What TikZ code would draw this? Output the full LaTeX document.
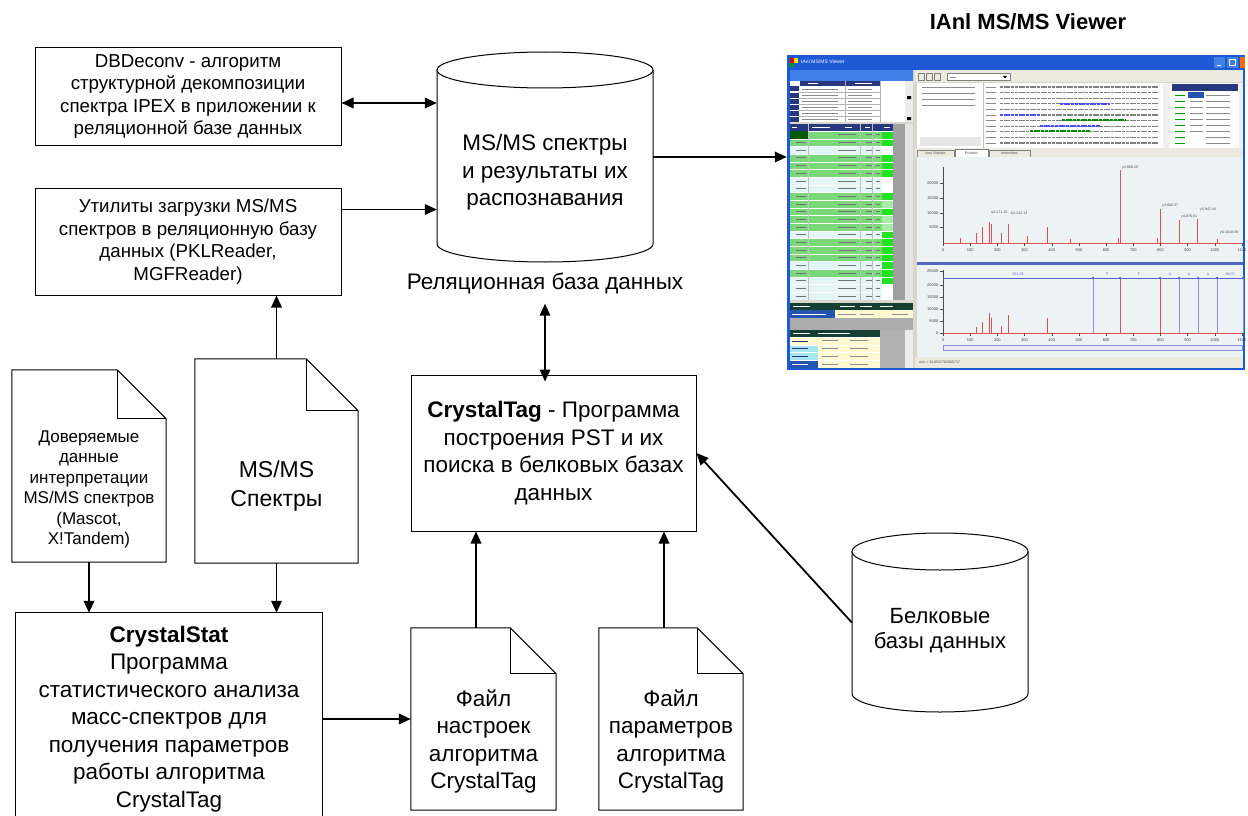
\documentclass[tikz,border=0pt]{standalone}
\usepackage{fontspec}
\setmainfont{Liberation Sans}
\usetikzlibrary{arrows.meta,calc}
\definecolor{xpblue}{HTML}{1F5AD6}
\definecolor{xpblueb}{HTML}{3F7FE8}
\definecolor{wgray}{HTML}{D9D6CE}
\definecolor{navy}{HTML}{27387E}
\definecolor{rowG}{HTML}{7AD87A}
\definecolor{rowL}{HTML}{E4F5F8}
\definecolor{cellB}{HTML}{22E022}
\definecolor{cellW}{HTML}{FFFFFF}
\definecolor{cellP}{HTML}{A8EAA8}
\definecolor{dgreen}{HTML}{163F33}
\definecolor{chartbg}{HTML}{EDF3F5}
\definecolor{spike}{HTML}{E25050}
\definecolor{bline}{HTML}{5566C0}
\definecolor{tbar}{HTML}{ECE9DE}
\definecolor{lyellow}{HTML}{FFF9D2}
\definecolor{lcyan}{HTML}{A6E6F0}
\definecolor{selblue}{HTML}{2453B0}
\newcommand{\docshape}[2]{%
  \draw[shp] (#1.south west) -- (#1.north west) -- ([xshift=-#2]#1.north east) -- ([yshift=-#2]#1.north east) -- (#1.south east) -- cycle;
  \draw[shp] ([xshift=-#2]#1.north east) -- ([xshift=-#2,yshift=-#2]#1.north east) -- ([yshift=-#2]#1.north east);}
\begin{document}
\begin{tikzpicture}[x=1pt,y=-1pt,
  box/.style={draw=black, line width=1pt, align=center, inner sep=0pt, fill=white},
  plain/.style={align=center, inner sep=0pt},
  shp/.style={line width=1pt, draw=black},
  arr/.style={line width=1.8pt, -{Triangle[length=12pt,width=10.5pt]}},
  barr/.style={line width=1.8pt, {Triangle[length=12pt,width=10.5pt]}-{Triangle[length=12pt,width=10.5pt]}},
  fs/.style={font=\fontsize{18.7}{22.5}\selectfont},
  fm/.style={font=\fontsize{22.5}{27.5}\selectfont},
  ft/.style={font=\fontsize{17}{20.5}\selectfont},
  tick/.style={font=\fontsize{4}{4}\selectfont, inner sep=0pt, text=black!75},
  plab/.style={font=\fontsize{3.6}{4}\selectfont, inner sep=0pt, text=black!70},
  fake/.style={line width=1.1pt, draw=black!45},
]
\useasboundingbox (0,0) rectangle (1248,816);
\fill[white] (0,0) rectangle (1248,816);

% ---------- left boxes ----------
\node[box, fs, minimum width=306pt, minimum height=97pt] (dbd) at (188,96.5)
  {DBDeconv - алгоритм\\структурной декомпозиции\\спектра IPEX в приложении к\\реляционной базе данных};
\node[box, fs, minimum width=306pt, minimum height=107pt] (util) at (188,241.5)
  {Утилиты загрузки MS/MS\\спектров в реляционную базу\\данных (PKLReader,\\MGFReader)};

% ---------- main database cylinder ----------
\node[plain, minimum width=216pt, minimum height=210pt] (db) at (545,157) {};
\draw[shp, fill=white] (437,70) -- (437,244) arc[start angle=180, end angle=360, x radius=108pt, y radius=18pt] -- (653,70);
\draw[shp, fill=white] (545,70) ellipse[x radius=108pt, y radius=18pt];
\node[plain, fm] (dbtext) at (545,172.5) {MS/MS спектры\\и результаты их\\распознавания};
\node[plain, fm, inner sep=3pt] (dblabel) at (545,283) {Реляционная база данных};

% ---------- CrystalTag ----------
\node[box, fm, minimum width=285pt, minimum height=156pt] (ct) at (553.5,453)
  {\textbf{CrystalTag} - Программа\\построения PST и их\\поиска в белковых базах\\данных};

% ---------- documents ----------
\node[plain, minimum width=154pt, minimum height=192pt] (trust) at (89,466) {};
\docshape{trust}{49pt}
\node[plain, ft] (trusttext) at (89,489.5) {Доверяемые\\данные\\интерпретации\\MS/MS спектров\\(Mascot,\\X!Tandem)};

\node[plain, minimum width=163pt, minimum height=204pt] (msdoc) at (276.5,461) {};
\docshape{msdoc}{52pt}
\node[plain, font=\fontsize{23}{29}\selectfont] (mstext) at (276.5,486.5) {MS/MS\\Спектры};

\node[plain, minimum width=145pt, minimum height=182pt] (file1) at (483.5,719) {};
\docshape{file1}{46pt}
\node[plain, fm] (f1text) at (483.5,741.5) {Файл\\настроек\\алгоритма\\CrystalTag};

\node[plain, minimum width=144pt, minimum height=182pt] (file2) at (671,719) {};
\docshape{file2}{46pt}
\node[plain, fm] (f2text) at (671,741.5) {Файл\\параметров\\алгоритма\\CrystalTag};

% ---------- CrystalStat ----------
\node[plain, fm, minimum width=306pt, minimum height=212pt] (cstat) at (169,719)
  {\textbf{CrystalStat}\\Программа\\статистического анализа\\масс-спектров для\\получения параметров\\работы алгоритма\\CrystalTag};
\draw[shp] (cstat.north west |- 0,816) -- (cstat.north west) -- (cstat.north east) -- (cstat.north east |- 0,816);

% ---------- protein DB cylinder ----------
\node[plain, minimum width=176pt, minimum height=179pt] (bdb) at (940,622.5) {};
\draw[shp, fill=white] (852,551.5) -- (852,693.5) arc[start angle=180, end angle=360, x radius=88pt, y radius=18.5pt] -- (1028,551.5);
\draw[shp, fill=white] (940,551.5) ellipse[x radius=88pt, y radius=18.5pt];
\node[plain, font=\fontsize{22}{25}\selectfont] (bdbtext) at (940,630.5) {Белковые\\базы данных};

% ---------- viewer screenshot ----------
\node[plain, font=\fontsize{22}{26}\selectfont\bfseries] (vtitle) at (1028,22) {IAnl MS/MS Viewer};
\node[plain, minimum width=458pt, minimum height=315pt] (viewer) at (1016,212.5) {};
\fill[wgray] (viewer.north west) rectangle (viewer.south east);
\fill[xpblue] (787,55) rectangle (1245,70);
\fill[xpblueb] (787,70) rectangle (913,81);
\fill[xpblue] (787,70) rectangle (790,370);
\fill[xpblue] (1243,70) rectangle (1245,370);
\fill[xpblue] (787,368) rectangle (1245,370);
\fill[red!85!black] (790,58) rectangle (794,63);
\fill[yellow!90!orange] (794,58) rectangle (798,63);
\fill[green!60!black] (790,63) rectangle (794,67);
\node[plain, anchor=west, font=\fontsize{5}{5}\selectfont, text=white] (wname) at (801,62) {IAnI MS/MS Viewer};
\fill[xpblueb] (1214,57) rectangle (1225,68);
\draw[white, line width=1pt] (1216.5,65.5) -- (1220.5,65.5);
\fill[xpblueb] (1227,57) rectangle (1238,68);
\draw[white, line width=0.8pt] (1229.5,59.5) rectangle (1235.5,65.5);
\fill[orange!85!red] (1240,57) rectangle (1245,68);

% left table A
\fill[white] (790,81) rectangle (905,122);
\fill[navy] (800,81) rectangle (880,86);
\foreach \i in {0,...,5} {\fill[navy] (790,{86.5+6*\i}) rectangle (799,{86.5+6*\i+5});}
\foreach \i in {1,...,5} {\draw[gray!60, line width=0.3pt] (799,{86+6*\i}) -- (880,{86+6*\i});}
\draw[gray!60, line width=0.3pt] (845,81) -- (845,122) (880,81) -- (880,122);
\foreach \i in {0,...,5} {\draw[fake, line width=0.9pt] (802,{89+6*\i}) -- (838,{89+6*\i}) (848,{89+6*\i}) -- (872,{89+6*\i});}
\draw[white, line width=0.9pt] (808,83.5) -- (818,83.5) (855,83.5) -- (872,83.5);
\fill[gray!15] (905,81) rectangle (913,122);
\fill[black] (907,96) rectangle (911,99) (907,117) rectangle (911,120);

% left table B
\fill[navy] (790,124) rectangle (893,131);
\draw[white, line width=0.9pt] (792,127.5) -- (797,127.5) (812,127.5) -- (830,127.5) (845,127.5) -- (852,127.5) (865,127.5) -- (870,127.5) (884,127.5) -- (890,127.5);
\fill[gray!75] (893,124) rectangle (913,300);
\fill[gray!20] (905,124) rectangle (913,300);
\foreach \c/\d [count=\i from 0] in {G/B,G/B,L/W,G/B,G/B,G/B,L/W,L/W,G/B,G/P,G/B,G/P,G/P,L/B,G/B,G/B,G/B,L/B,G/B,L/B,L/W,L/W} {
  \pgfmathsetmacro{\yy}{131+7.68*\i}
  \fill[row\c] (790,\yy) rectangle (882,\yy+7.68);
  \fill[cell\d] (882,\yy) rectangle (893,\yy+7.68);
  \draw[white, line width=0.3pt] (790,\yy) -- (893,\yy);
  \draw[fake, draw=black!55, line width=0.9pt] (796,\yy+3.9) -- (806,\yy+3.9) (838,\yy+3.9) -- (856,\yy+3.9) (866,\yy+3.9) -- (872,\yy+3.9) (876,\yy+3.9) -- (880,\yy+3.9);
}
\fill[green!35!black] (790,131) rectangle (808,138.7);
\draw[gray!50, line width=0.3pt] (808,124) -- (808,300) (860,124) -- (860,300) (872,124) -- (872,300);

% left table C
\fill[dgreen] (790,303) rectangle (913,310);
\draw[white, line width=0.9pt] (793,306.5) -- (810,306.5) (840,306.5) -- (855,306.5) (860,306.5) -- (872,306.5) (880,306.5) -- (893,306.5);
\fill[selblue] (790,310) rectangle (835,318);
\fill[lyellow] (835,310) rectangle (913,318);
\draw[white, line width=0.9pt] (792,314) -- (826,314);
\draw[fake, line width=0.9pt] (838,314) -- (856,314) (860,314) -- (874,314) (892,314) -- (908,314);
\fill[gray!65] (790,318) rectangle (913,330);

% left table D
\fill[dgreen] (790,330) rectangle (880,337);
\draw[white, line width=0.9pt] (793,333.5) -- (810,333.5) (818,333.5) -- (850,333.5);
\foreach \c [count=\i from 0] in {lyellow,lcyan,lcyan,selblue} {
  \pgfmathsetmacro{\yy}{337+7.8*\i}
  \fill[\c] (790,\yy) rectangle (818,\yy+7.8);
  \fill[lyellow] (818,\yy) rectangle (880,\yy+7.8);
  \draw[white, line width=0.3pt] (790,\yy) -- (880,\yy);
  \draw[fake, line width=0.9pt] (822,\yy+3.9) -- (838,\yy+3.9) (850,\yy+3.9) -- (868,\yy+3.9);
}
\draw[navy, line width=0.9pt] (792,341) -- (808,341) (792,348.5) -- (808,348.5) (792,356.5) -- (808,356.5);
\draw[white, line width=0.9pt] (792,364.5) -- (808,364.5);
\fill[gray!60] (880,330) rectangle (913,368);
\fill[gray!15] (905,330) rectangle (913,368);

% right panel: toolbar
\fill[tbar] (915,70) rectangle (1243,82);
\draw[gray, line width=0.4pt] (918,73) rectangle (924,80) (926,73) rectangle (932,80) (934,73) rectangle (940,80);
\fill[white] (947,73.5) rectangle (1010,80.5);
\draw[gray, line width=0.4pt] (947,73.5) rectangle (1010,80.5);
\fill[black] (1003,76) -- (1007,76) -- (1005,78.5) -- cycle;
\draw[fake, line width=0.8pt] (950,77) -- (956,77);

% right panel: text area
\fill[white] (917,83) rectangle (1240,148);
\draw[gray!50, line width=0.3pt] (983,83) -- (983,148) (1163,83) -- (1163,148);
\foreach \i in {0,...,3} {\draw[fake, line width=0.9pt] (922,{87+6*\i}) -- (975,{87+6*\i});}
\fill[gray!20] (920,137) rectangle (981,146);
\foreach \i in {0,...,10} {
  \pgfmathsetmacro{\yy}{87+5.6*\i}
  \draw[fake, line width=0.9pt] (986,\yy) -- (996,\yy);
  \draw[draw=black!50, line width=1.1pt, dash pattern=on 3pt off 0.7pt] (1000,\yy) -- (1158,\yy);
}
\draw[draw=blue!70, line width=1.1pt, dash pattern=on 3pt off 0.7pt] (1060,104) -- (1110,104) (1000,115) -- (1040,115) (1040,126) -- (1100,126);
\draw[draw=green!55!black, line width=1.1pt, dash pattern=on 3pt off 0.7pt] (1062,120) -- (1125,120) (1030,131) -- (1090,131);
\fill[gray!12] (1163,83) rectangle (1170,148);
\fill[navy] (1172,84) rectangle (1238,91);
\fill[selblue] (1188,92) rectangle (1204,98);
\fill[white] (1172,91) rectangle (1188,147);
\fill[white] (1204,92) rectangle (1238,147);
\fill[white] (1188,98) rectangle (1204,147);
\foreach \i in {0,...,8} {
  \pgfmathsetmacro{\yy}{95+6.1*\i}
  \draw[draw=green!60!black, line width=0.9pt] (1175,\yy) -- (1185,\yy);
  \draw[fake, line width=0.9pt] (1206,\yy) -- (1230,\yy);
}
\draw[fake, line width=0.9pt] (1190,101.1) -- (1203,101.1) (1190,107.2) -- (1203,107.2) (1190,113.3) -- (1203,113.3) (1190,119.4) -- (1203,119.4) (1190,125.5) -- (1203,125.5) (1190,131.6) -- (1203,131.6);
\fill[gray!12] (1239,83) rectangle (1243,148);

% tabs
\fill[tbar] (915,148) rectangle (1243,157);
\draw[gray, line width=0.4pt] (917,157) -- (917,150) -- (954,150) -- (954,157);
\fill[white] (955,149) rectangle (988,157);
\draw[gray, line width=0.4pt] (955,157) -- (955,149) -- (988,149) -- (988,157);
\draw[gray, line width=0.4pt] (989,157) -- (989,150) -- (1030,150) -- (1030,157);
\node[plab] (tab1) at (935.5,153.5) {Ions Statistic};
\node[plab] (tab2) at (971.5,153.5) {Proteins};
\node[plab] (tab3) at (1009.5,153.5) {Intensities};

% chart 1
\fill[chartbg] (917,157) rectangle (1243,262);
\draw[black!70, line width=0.5pt] (943,167) -- (943,243);
\draw[spike, line width=0.6pt] (943,243) -- (1242,243);
\foreach \v/\yy in {20000/183,15000/198,10000/213,5000/227.5} {
  \draw[black!70, line width=0.4pt] (940,\yy) -- (943,\yy);
  \node[tick, anchor=east] (ya\v) at (938.5,\yy) {\v};
}
\foreach \k [evaluate=\k as \xx using 943+27.18*\k, evaluate=\k as \lab using int(100*\k)] in {0,...,11} {
  \draw[black!70, line width=0.4pt] (\xx,243) -- (\xx,246);
  \node[tick] (xa\k) at (\xx,250.5) {\lab};
}
\foreach \xx/\yy in {960/238,976/233,982/227,989/222,991/224,1001/233,1008/224,1027/236,1047/227,1070/239,1118/238,1120/170,1157/238,1160/209,1179/220,1197/219,1217/239} {
  \draw[spike, line width=0.8pt] (\xx,243) -- (\xx,\yy);
}
\node[plab, anchor=west] (l1) at (1122,168) {y2-668.28};
\node[plab, anchor=west] (l2) at (1162,206) {y3-806.37};
\node[plab, anchor=west] (l3) at (1200,210) {y5-947.44};
\node[plab, anchor=west] (l4) at (1181,217) {y4-876.61};
\node[plab, anchor=west] (l5) at (1220,233) {y6-1018.49};
\node[plab, anchor=west] (l6) at (991,212) {a2-171.10};
\node[plab, anchor=west] (l7) at (1011,213) {b2-242.13};

% separator and chart 2
\fill[bline] (917,262) rectangle (1243,265);
\fill[chartbg] (917,265) rectangle (1243,357);
\draw[black!70, line width=0.5pt] (943,270) -- (943,333);
\draw[spike, line width=0.6pt] (943,333) -- (1242,333);
\foreach \v/\yy in {25000/271,20000/285,15000/297,10000/309,5000/321,0/333} {
  \draw[black!70, line width=0.4pt] (940,\yy) -- (943,\yy);
  \node[tick, anchor=east] (yb\v) at (938.5,\yy) {\v};
}
\foreach \k [evaluate=\k as \xx using 943+27.18*\k, evaluate=\k as \lab using int(100*\k)] in {0,...,11} {
  \draw[black!70, line width=0.4pt] (\xx,333) -- (\xx,336);
  \node[tick] (xb\k) at (\xx,340.5) {\lab};
}
\fill[blue!8] (943,345) rectangle (1242,350);
\draw[bline!70, line width=0.4pt] (943,345) rectangle (1242,350);
\draw[bline, line width=0.6pt] (943,278) -- (1243,278);
\foreach \xx in {1093,1179,1198,1217,1243} {\draw[bline!70, line width=0.5pt] (\xx,278) -- (\xx,333);}
\foreach \xx/\yy in {976/327,982/322,989/313,991/318,1001/326,1008/315,1047/318,1120/278,1160/278} {
  \draw[spike, line width=0.8pt] (\xx,333) -- (\xx,\yy);
}
\foreach \xx in {1093,1120,1160,1179,1198,1217,1243} {\fill[bline] (\xx,278) circle[radius=1.3pt];}
\foreach \t/\xx [count=\i] in {561.26/1018,P/1107,F/1139,A/1170,A/1189,A/1208,86.07/1230} {
  \node[plab, text=bline] (sq\i) at (\xx,274.5) {\t};
}
\fill[tbar] (915,357) rectangle (1243,368);
\node[plab, anchor=west] (mz) at (919,362.5) {m/z = 34.8531782945737};

% ---------- connectors ----------
\draw[barr] ([yshift=-6.5pt]dbd.east) -- ([yshift=-6.5pt]dbd.east -| db.west);
\draw[arr] ([yshift=32pt]util.east) -- ([yshift=32pt]util.east -| db.west);
\draw[arr] (db.east) -- (db.east -| viewer.west);
\draw[barr] ([yshift=-7pt]dblabel.south) -- ([yshift=-7pt]dblabel.south |- ct.north);
\draw[arr] (msdoc.north) -- (msdoc.north |- util.south);
\draw[arr] (trust.south) -- (trust.south |- cstat.north);
\draw[arr] (msdoc.south) -- (msdoc.south |- cstat.north);
\draw[arr] (cstat.east) -- (file1.west);
\draw[arr] ([xshift=-7.5pt]file1.north) -- ([xshift=-7.5pt]file1.north |- ct.south);
\draw[arr] ([xshift=-7pt]file2.north) -- ([xshift=-7pt]file2.north |- ct.south);
\draw[arr] (bdb.west) -- (ct.east);
\end{tikzpicture}
\end{document}
